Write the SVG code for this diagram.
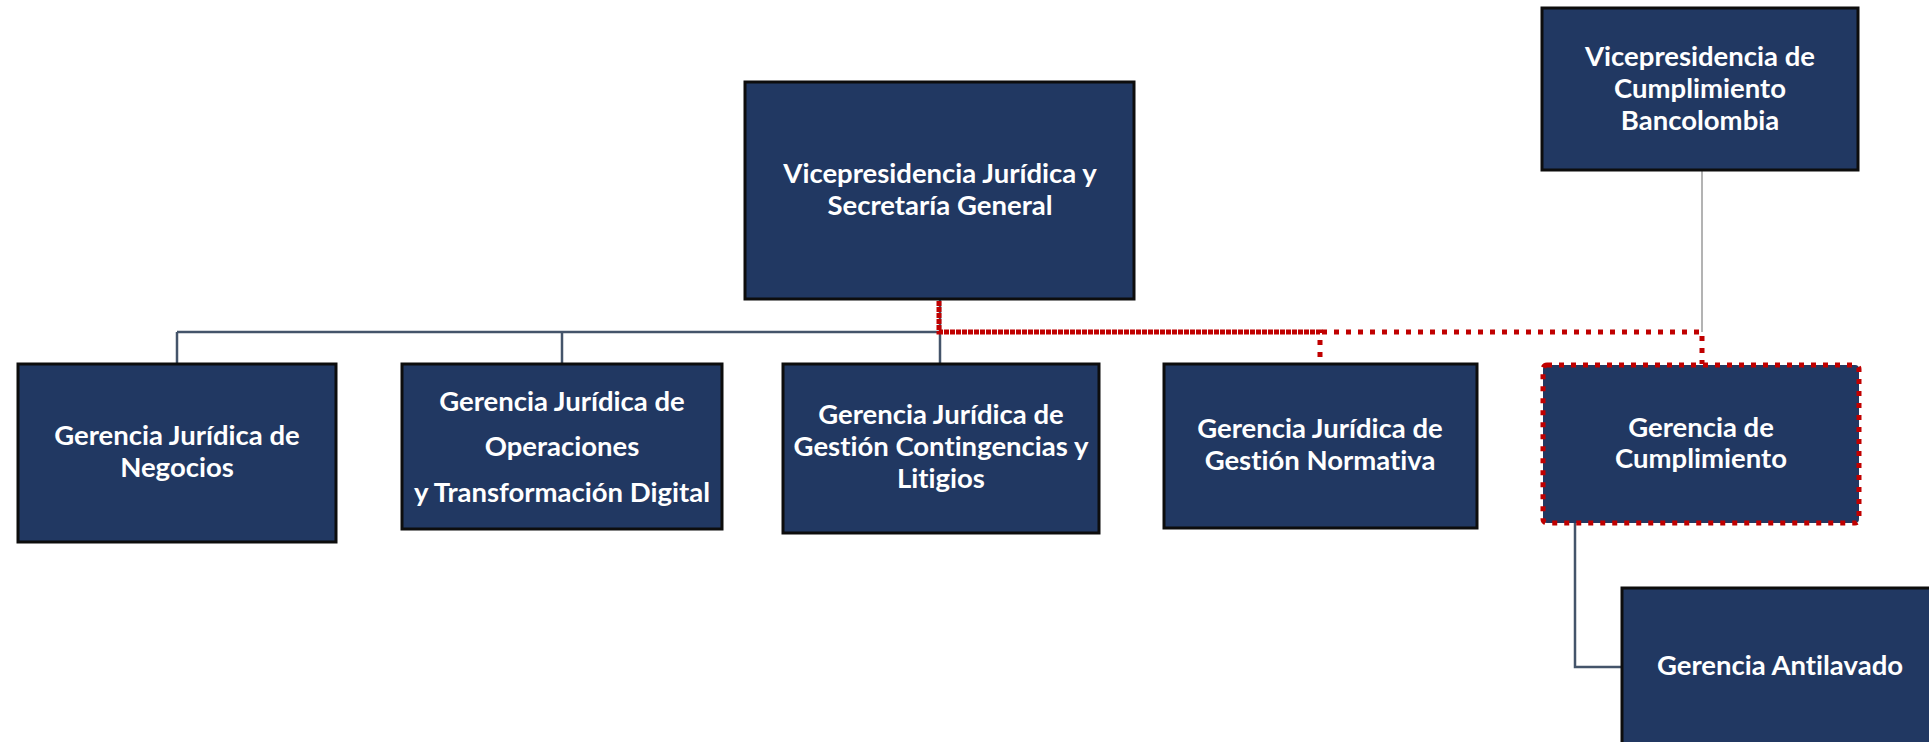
<svg xmlns="http://www.w3.org/2000/svg" width="1929" height="742" viewBox="0 0 1929 742">
<style>
.box{fill:#213862;stroke:#0d0d0d;stroke-width:3}
.lbl{font-family:Lato,"Open Sans","DejaVu Sans",sans-serif;font-weight:bold;font-size:27.5px;fill:#ffffff;text-anchor:middle;font-variant-ligatures:none}
.conn{fill:none;stroke:#44546A;stroke-width:2.5}
.thin{fill:none;stroke:#9a9a9a;stroke-width:1.5}
.dot{fill:none;stroke:#C00000;stroke-width:5;stroke-dasharray:5 7}
</style>
<rect width="1929" height="742" fill="#ffffff"/>
<g id="connectors">
<path class="conn" d="M940 299 V332 M177 332 H940 M177 332 V364 M562 332 V364 M940 332 V364"/>
<path class="thin" d="M1702 170 V332"/>
<path class="conn" d="M1575 523 V667 H1622"/>
<path class="dot" d="M939 301 V332 H1320 V364"/>
<path class="dot" style="stroke-dashoffset:6" d="M939 301 V332 H1702 V364"/>
</g>
<g id="vp-juridica">
<rect class="box" x="745" y="82" width="389" height="217"/>
<text class="lbl" x="940" y="183">Vicepresidencia Jurídica y</text>
<text class="lbl" x="940" y="215">Secretaría General</text>
</g>
<g id="vp-cumplimiento">
<rect class="box" x="1542" y="8" width="316" height="162"/>
<text class="lbl" x="1700" y="66">Vicepresidencia de</text>
<text class="lbl" x="1700" y="98">Cumplimiento</text>
<text class="lbl" x="1700" y="130">Bancolombia</text>
</g>
<g id="g-negocios">
<rect class="box" x="18" y="364" width="318" height="178"/>
<text class="lbl" x="177" y="445">Gerencia Jurídica de</text>
<text class="lbl" x="177" y="477">Negocios</text>
</g>
<g id="g-operaciones">
<rect class="box" x="402" y="364" width="320" height="165"/>
<text class="lbl" x="562" y="411">Gerencia Jurídica de</text>
<text class="lbl" x="562" y="456">Operaciones</text>
<text class="lbl" x="562" y="502">y Transformación Digital</text>
</g>
<g id="g-contingencias">
<rect class="box" x="783" y="364" width="316" height="169"/>
<text class="lbl" x="941" y="424">Gerencia Jurídica de</text>
<text class="lbl" x="941" y="456">Gestión Contingencias y</text>
<text class="lbl" x="941" y="488">Litigios</text>
</g>
<g id="g-normativa">
<rect class="box" x="1164" y="364" width="313" height="164"/>
<text class="lbl" x="1320" y="438">Gerencia Jurídica de</text>
<text class="lbl" x="1320" y="470">Gestión Normativa</text>
</g>
<g id="g-cumplimiento">
<rect x="1543" y="365" width="316" height="158" rx="4" fill="#213862"/>
<rect class="dot" x="1543" y="365" width="316" height="158" rx="4"/>
<text class="lbl" x="1701" y="437">Gerencia de</text>
<text class="lbl" x="1701" y="468">Cumplimiento</text>
</g>
<g id="g-antilavado">
<rect class="box" x="1622" y="588" width="320" height="165"/>
<text class="lbl" x="1780" y="675">Gerencia Antilavado</text>
</g>
</svg>
